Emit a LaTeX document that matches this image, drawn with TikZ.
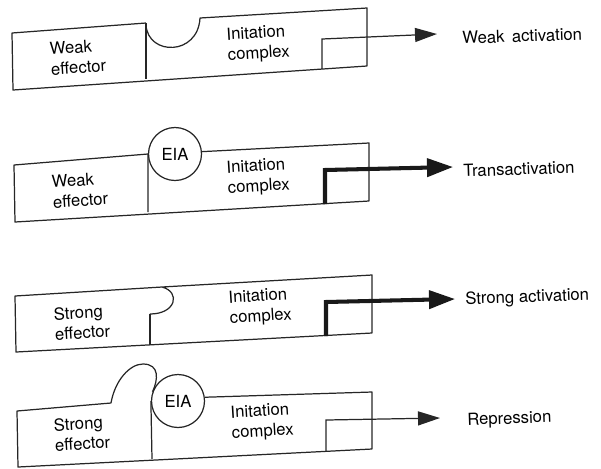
\documentclass[tikz,border=0pt]{standalone}
\usepackage{fontspec}
\setmainfont{TeX Gyre Heros}
\usetikzlibrary{arrows.meta}

\begin{document}
\begin{tikzpicture}[x=0.02cm, y=-0.02cm,
    outline/.style={draw=black!85, line width=0.7pt, line join=round},
    txt/.style={font=\fontsize{9.5}{11.5}\selectfont, align=left, anchor=west, inner sep=0pt, rotate=3.5},
    outcome/.style={font=\fontsize{9.5}{11.5}\selectfont, anchor=west, inner sep=0pt, rotate=2},
    protein/.style={circle, draw=black!85, line width=0.7pt, minimum size=1.06cm, inner sep=0pt, font=\fontsize{9.5}{11.5}\selectfont},
    weakarrow/.style={-{Triangle[length=0.44cm,width=0.28cm]}, line width=0.7pt, draw=black!85},
    strongarrow/.style={-{Triangle[length=0.52cm,width=0.36cm]}, line width=2.3pt, draw=black!90, line join=miter}]
  \useasboundingbox (0,0) rectangle (601,468);

  % panel 1: weak effector, no EIA
  \draw[outline] (146,23) -- (12,33) -- (13,90) -- (367,66) -- (367,8) -- (200,18)
    .. controls (198,56) and (148,56) .. (146,25);
  \draw[outline] (146,23) -- (146,79);
  \node[txt] (eff1) at (50,59) {Weak\\effector};
  \node[txt] (ic1) at (227,46) {Initation\\complex};
  \coordinate (base1) at (322,69);
  \coordinate (bend1) at (322,39);
  \coordinate (tip1) at (437,34);
  \node[outcome] (out1) at (462,38) {Weak\, activation};
  \draw[weakarrow] (base1) -- (bend1) -- (tip1);

  % panel 2: weak effector with EIA
  \node[protein] (eia2) at (175,154) {EIA};
  \draw[outline] (eia2.west) -- (14,165) -- (15,222) -- (369,201) -- (369,143) -- (eia2.5);
  \draw[outline] (eia2.west) -- (148,212);
  \node[txt] (eff2) at (52,192) {Weak\\effector};
  \node[txt] (ic2) at (227,179) {Initation\\complex};
  \coordinate (base2) at (325,204);
  \coordinate (bend2) at (325,170);
  \coordinate (tip2) at (453,167);
  \node[outcome] (out2) at (463,171) {Transactivation};
  \draw[strongarrow] (base2) -- (bend2) -- (tip2);

  % panel 3: strong effector, no EIA
  \draw[outline] (150,314) .. controls (176,314) and (181,292) .. (162,287)
    -- (15,296) -- (16,352) -- (372,333) -- (372,275) -- (162,287);
  \draw[outline] (150,314) -- (150,345);
  \node[txt] (eff3) at (54,324) {Strong\\effector};
  \node[txt] (ic3) at (229,309) {Initation\\complex};
  \coordinate (base3) at (326,336);
  \coordinate (bend3) at (326,302);
  \coordinate (tip3) at (455,299);
  \node[outcome] (out3) at (465,300) {Strong activation};
  \draw[strongarrow] (base3) -- (bend3) -- (tip3);

  % panel 4: strong effector with EIA
  \node[protein] (eia4) at (178,401) {EIA};
  \draw[outline] (eia4.160) .. controls (158,380) and (160,364) .. (143,364)
    .. controls (130,364) and (115,380) .. (111,403)
    -- (17,411) -- (18,467) -- (372,449) -- (372,392) -- (eia4.8);
  \draw[outline] (eia4.west) -- (152,459);
  \node[txt] (eff4) at (54,435) {Strong\\effector};
  \node[txt] (ic4) at (231,424) {Initation\\complex};
  \coordinate (base4) at (326,451);
  \coordinate (bend4) at (326,420);
  \coordinate (tip4) at (440,418);
  \node[outcome] (out4) at (467,421) {Repression};
  \draw[weakarrow] (base4) -- (bend4) -- (tip4);
\end{tikzpicture}
\end{document}
